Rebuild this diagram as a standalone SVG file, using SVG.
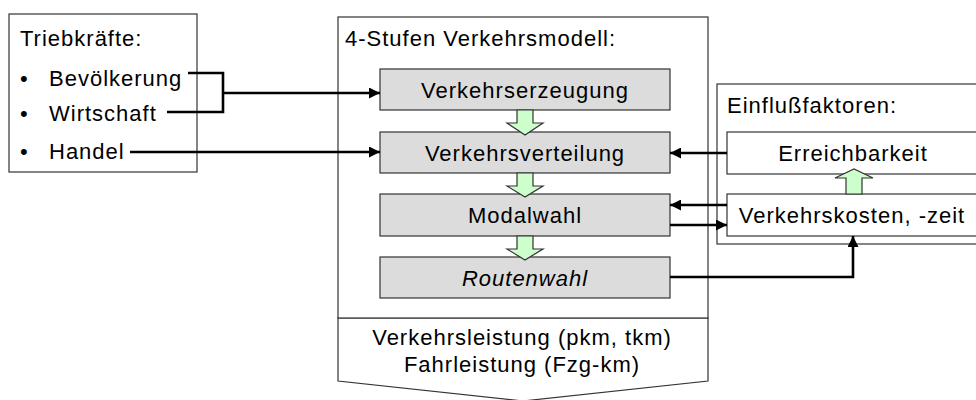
<svg xmlns="http://www.w3.org/2000/svg" width="976" height="400" viewBox="0 0 976 400">
<style>
text{font-family:"Liberation Sans",Arial,sans-serif;font-size:22px;fill:#000;letter-spacing:1px}
.c{text-anchor:middle}
.box{fill:#fff;stroke:#333;stroke-width:1.2}
.step{fill:#dcdcdc;stroke:#333;stroke-width:1.2}
.green{fill:#ccffcc;stroke:#333;stroke-width:1.2}
.conn{fill:none;stroke:#000;stroke-width:2.6}
</style>
<defs>
<marker id="ah" viewBox="0 0 10 10" refX="10" refY="5" markerWidth="11" markerHeight="11" markerUnits="userSpaceOnUse" orient="auto">
<path d="M0,0 L10,5 L0,10 Z" fill="#000"/>
</marker>
</defs>
<rect width="976" height="400" fill="#fff"/>
<g id="output">
<path class="box" d="M338,318 H708 V381 L523,401 L338,381 Z"/>
<text class="c" x="522" y="345">Verkehrsleistung (pkm, tkm)</text>
<text class="c" x="522" y="372">Fahrleistung (Fzg-km)</text>
</g>
<g id="triebkraefte">
<rect class="box" x="9" y="14" width="188" height="158"/>
<text x="20" y="46">Triebkräfte:</text>
<text x="20" y="86">•</text><text x="49" y="86">Bevölkerung</text>
<text x="20" y="121">•</text><text x="49" y="121">Wirtschaft</text>
<text x="20" y="159">•</text><text x="49" y="159">Handel</text>
</g>
<g id="modell">
<rect class="box" x="338" y="17" width="370" height="301"/>
<text x="345" y="46">4-Stufen Verkehrsmodell:</text>
</g>
<g id="verkehrserzeugung">
<rect class="step" x="380" y="69" width="290" height="41"/>
<text class="c" x="525" y="98">Verkehrserzeugung</text>
</g>
<g id="verkehrsverteilung">
<rect class="step" x="380" y="132" width="290" height="41"/>
<text class="c" x="525" y="161">Verkehrsverteilung</text>
</g>
<g id="modalwahl">
<rect class="step" x="380" y="194" width="290" height="42"/>
<text class="c" x="525" y="223">Modalwahl</text>
</g>
<g id="routenwahl">
<rect class="step" x="380" y="257" width="290" height="41"/>
<text class="c" x="525" y="286" font-style="italic">Routenwahl</text>
</g>
<g id="einflussfaktoren">
<rect class="box" x="717" y="84" width="280" height="160"/>
<text x="727" y="113">Einflußfaktoren:</text>
</g>
<g id="erreichbarkeit">
<rect class="box" x="727" y="132" width="270" height="42"/>
<text class="c" x="853" y="161">Erreichbarkeit</text>
</g>
<g id="verkehrskosten">
<rect class="box" x="727" y="194" width="270" height="42"/>
<text class="c" x="852" y="223">Verkehrskosten, -zeit</text>
</g>
<g id="connectors">
<path class="green" d="M517,110 V123 H507 L525,135 L543,123 H533 V110 Z"/>
<path class="green" d="M517,173 V186 H507 L525,197 L543,186 H533 V173 Z"/>
<path class="green" d="M517,236 V249 H507 L525,260 L543,249 H533 V236 Z"/>
<path class="green" d="M846,194 V178 H835 L854,169 L873,178 H862 V194 Z"/>
<path class="conn" d="M188,73 H223 V112 H167"/>
<path class="conn" d="M223,93 H380" marker-end="url(#ah)"/>
<path class="conn" d="M130,152 H380" marker-end="url(#ah)"/>
<path class="conn" d="M727,153 H670" marker-end="url(#ah)"/>
<path class="conn" d="M727,205 H670" marker-end="url(#ah)"/>
<path class="conn" d="M670,225 H727" marker-end="url(#ah)"/>
<path class="conn" d="M670,277 H853 V236" marker-end="url(#ah)"/>
</g>
</svg>
